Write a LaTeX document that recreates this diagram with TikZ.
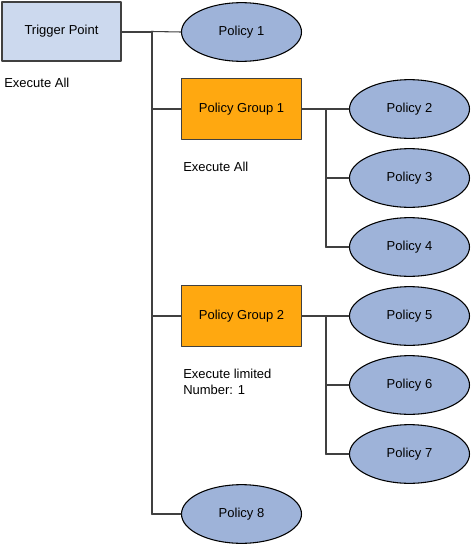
\documentclass[tikz,border=0pt]{standalone}
\usepackage{fontspec}
\setmainfont{Liberation Sans}
\usepackage{tikz}
\usetikzlibrary{shapes.geometric}
\definecolor{trigfill}{HTML}{CCD9EE}
\definecolor{groupfill}{HTML}{FFA810}
\definecolor{policyfill}{HTML}{9EB3D9}
\definecolor{linegray}{HTML}{404040}
\tikzset{
    trigbox/.style={draw=linegray,line width=1pt,fill=trigfill,minimum width=89.25pt,minimum height=44.25pt,inner sep=0pt},
    groupbox/.style={draw=linegray,line width=1pt,fill=groupfill,minimum width=90pt,minimum height=45.5pt,inner sep=0pt},
    policy/.style={ellipse,draw=black,line width=0.8pt,fill=policyfill,minimum width=90pt,minimum height=44pt,inner sep=0pt},
    note/.style={anchor=west,align=left,inner sep=0pt},
    thickline/.style={draw=linegray,line width=1.5pt},
    thinline/.style={draw=linegray,line width=0.8pt}
}
\begin{document}
\begin{tikzpicture}[line cap=round,line join=round,x=0.75pt,y=-0.75pt,font=\fontsize{9.75}{12}\selectfont]
                \useasboundingbox (0,0) rectangle (471,546);
                \node[trigbox] (trig) at (61.5,31.5) {Trigger Point};
                \node[policy] (p1) at (241.5,32) {Policy 1};
                \node[groupbox] (g1) at (241.5,109) {Policy Group 1};
                \node[groupbox] (g2) at (241.5,316) {Policy Group 2};
                \node[policy] (p2) at (409.5,109) {Policy 2};
                \node[policy] (p3) at (409.5,178) {Policy 3};
                \node[policy] (p4) at (409.5,247) {Policy 4};
                \node[policy] (p5) at (409.5,316) {Policy 5};
                \node[policy] (p6) at (409.5,385) {Policy 6};
                \node[policy] (p7) at (409.5,454) {Policy 7};
                \node[policy] (p8) at (241.5,514) {Policy 8};
                \coordinate (t0) at (152,31.5);
                \coordinate (t1) at (152,514);
                \coordinate (s1) at (326,109);
                \coordinate (s2) at (326,316);
                \draw [thickline] (trig.east) -- (t0);
                \draw [thickline] (t0) -- (t1);
                \draw [thinline] (t0) -- (p1.west);
                \draw [thinline] (t0 |- g1) -- (g1.west);
                \draw [thinline] (t0 |- g2) -- (g2.west);
                \draw [thinline] (t1) -- (p8.west);
                \draw [thickline] (g1.east) -- (s1);
                \draw [thickline] (s1) -- (s1 |- p4);
                \draw [thinline] (s1) -- (p2.west);
                \draw [thinline] (s1 |- p3) -- (p3.west);
                \draw [thinline] (s1 |- p4) -- (p4.west);
                \draw [thickline] (g2.east) -- (s2);
                \draw [thickline] (s2) -- (s2 |- p7);
                \draw [thinline] (s2) -- (p5.west);
                \draw [thinline] (s2 |- p6) -- (p6.west);
                \draw [thinline] (s2 |- p7) -- (p7.west);
                \node[note] (n0) at (4,83) {Execute All};
                \node[note] (n1) at (183,167) {Execute All};
                \node[note] (n2) at (183,382) {Execute limited\\Number: 1};
            \end{tikzpicture}
\end{document}
